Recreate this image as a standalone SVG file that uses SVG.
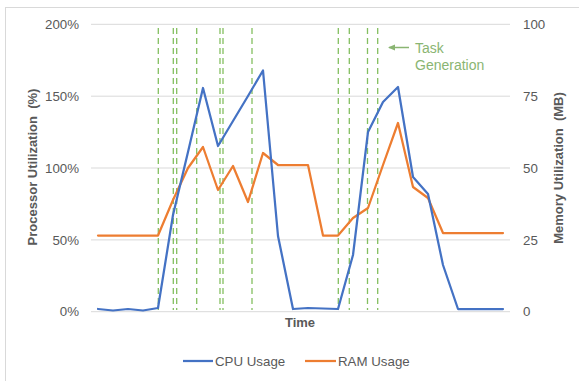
<svg xmlns="http://www.w3.org/2000/svg" width="579" height="381" viewBox="0 0 579 381">
  <style>
    .grid { stroke: #d9d9d9; stroke-width: 1; fill: none; }
    .tick { font-family: "Liberation Sans", Arial, sans-serif; font-size: 13.3px; fill: #595959; }
    .title { font-family: "Liberation Sans", Arial, sans-serif; font-size: 13px; font-weight: bold; fill: #595959; }
    .legend { font-family: "Liberation Sans", Arial, sans-serif; font-size: 13.3px; fill: #595959; }
    .task { stroke: #84bf60; stroke-width: 1.3; stroke-dasharray: 6 4; fill: none; }
    .note { font-family: "Liberation Sans", Arial, sans-serif; font-size: 14px; fill: #8ab572; }
    .cpu { stroke: #4472c4; stroke-width: 2.25; fill: none; stroke-linejoin: round; stroke-linecap: round; }
    .ram { stroke: #ed7d31; stroke-width: 2.25; fill: none; stroke-linejoin: round; stroke-linecap: round; }
  </style>
  <defs>
    <marker id="arrow" markerWidth="8" markerHeight="8" refX="6" refY="3.5" orient="auto" markerUnits="userSpaceOnUse">
      <path d="M0,0.5 L7,3.5 L0,6.5 Z" fill="#8ab572"/>
    </marker>
  </defs>

  <rect x="0" y="0" width="579" height="381" fill="#ffffff"/>
  <!-- chart frame -->
  <rect x="5.5" y="7.5" width="620" height="420" fill="none" stroke="#d9d9d9" stroke-width="1"/>

  <!-- gridlines -->
  <g id="grid">
    <line class="grid" x1="91" y1="24.3" x2="510" y2="24.3"/>
    <line class="grid" x1="91" y1="96.2" x2="510" y2="96.2"/>
    <line class="grid" x1="91" y1="168" x2="510" y2="168"/>
    <line class="grid" x1="91" y1="239.9" x2="510" y2="239.9"/>
    <line class="grid" x1="91" y1="311.7" x2="510" y2="311.7"/>
  </g>

  <!-- left axis labels -->
  <g id="axis-left" class="tick" text-anchor="end">
    <text x="79" y="29">200%</text>
    <text x="79" y="101">150%</text>
    <text x="79" y="172.7">100%</text>
    <text x="79" y="244.6">50%</text>
    <text x="79" y="316.4">0%</text>
  </g>
  <!-- right axis labels -->
  <g id="axis-right" class="tick">
    <text x="523" y="29">100</text>
    <text x="523" y="101">75</text>
    <text x="523" y="172.7">50</text>
    <text x="523" y="244.6">25</text>
    <text x="523" y="316.4">0</text>
  </g>

  <!-- axis titles -->
  <text id="title-left" class="title" text-anchor="middle" transform="translate(36.5,167) rotate(-90)" xml:space="preserve">Processor Utilization  (%)</text>
  <text id="title-right" class="title" text-anchor="middle" transform="translate(562.5,168) rotate(-90)" xml:space="preserve">Memory Utilization  (MB)</text>
  <text id="title-x" class="title" x="300" y="327" text-anchor="middle">Time</text>

  <!-- task generation markers -->
  <g id="task-markers">
    <line class="task" x1="158.3" y1="28" x2="158.3" y2="310"/>
    <line class="task" x1="173.3" y1="28" x2="173.3" y2="310"/>
    <line class="task" x1="176.7" y1="28" x2="176.7" y2="310"/>
    <line class="task" x1="196.7" y1="28" x2="196.7" y2="310"/>
    <line class="task" x1="220" y1="28" x2="220" y2="310"/>
    <line class="task" x1="223" y1="28" x2="223" y2="310"/>
    <line class="task" x1="252" y1="28" x2="252" y2="310"/>
    <line class="task" x1="338.3" y1="28" x2="338.3" y2="310"/>
    <line class="task" x1="349.3" y1="28" x2="349.3" y2="310"/>
    <line class="task" x1="367.5" y1="28" x2="367.5" y2="310"/>
    <line class="task" x1="377.7" y1="28" x2="377.7" y2="310"/>
  </g>

  <!-- annotation -->
  <g id="task-note">
    <line x1="409" y1="47.5" x2="389" y2="47.5" stroke="#8ab572" stroke-width="1.5" marker-end="url(#arrow)"/>
    <text class="note" x="415" y="53">Task</text>
    <text class="note" x="415" y="69.5">Generation</text>
  </g>

  <!-- data series -->
  <g id="series">
    <polyline id="ram" class="ram" points="98,235.5 113,235.5 128,235.5 143,235.5 158,235.5 173,200 188,168 203,147 218,190 233,166 248,202 263,153 278,165 293,165 308,165 323,235.5 338,235.5 353,218 368,208 383,165 398,123 413,187 428,198 443,233 458,233 473,233 488,233 503,233"/>
    <polyline id="cpu" class="cpu" points="98,309 113,310.5 128,309 143,310.5 158,308 173,215 188,152 203,88 218,146 233,121 248,96 263,70.5 278,236 293,309 308,308 323,308.5 338,309 353,255 368,132 383,102 398,87 413,177 428,194 443,265 458,309 473,309 488,309 503,309"/>
  </g>

  <!-- legend -->
  <g id="legend">
    <line x1="183" y1="361" x2="213" y2="361" stroke="#4472c4" stroke-width="2.25"/>
    <text class="legend" x="215" y="366">CPU Usage</text>
    <line x1="305" y1="361" x2="336" y2="361" stroke="#ed7d31" stroke-width="2.25"/>
    <text class="legend" x="338" y="366">RAM Usage</text>
  </g>
</svg>
